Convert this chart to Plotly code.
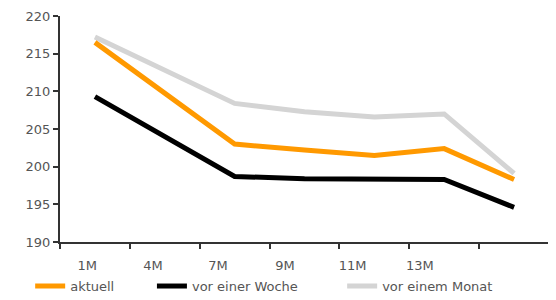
import plotly.graph_objects as go

categories = ["1M", "4M", "7M", "9M", "11M", "13M", ""]
tick_labels = ["1M", "4M", "7M", "9M", "11M", "13M"]
aktuell = [216.5, 209.8, 203.0, 202.2, 201.5, 202.4, 198.3]
vor_woche = [209.3, 204.0, 198.7, 198.4, 198.4, 198.3, 194.6]
vor_monat = [217.2, 212.8, 208.4, 207.3, 206.6, 207.0, 199.1]

xpos = [i + 0.5 for i in range(len(categories))]
label_pos = [0.39, 1.33, 2.26, 3.22, 4.19, 5.15]

fig = go.Figure()
fig.add_trace(go.Scatter(x=xpos, y=vor_monat, mode="lines", name="vor einem Monat",
                         line=dict(color="#d4d4d4", width=5), legend="legend3"))
fig.add_trace(go.Scatter(x=xpos, y=vor_woche, mode="lines", name="vor einer Woche",
                         line=dict(color="#000000", width=5), legend="legend2"))
fig.add_trace(go.Scatter(x=xpos, y=aktuell, mode="lines", name="aktuell",
                         line=dict(color="#ff9900", width=5), legend="legend"))
fig.add_trace(go.Scatter(x=[0, 7], y=[None, None], xaxis="x2", showlegend=False,
                         hoverinfo="skip"))

font = dict(family="DejaVu Sans, sans-serif", size=13, color="#555555")
legend_common = dict(orientation="h", yanchor="middle", y=-0.195, xanchor="left",
                     bgcolor="rgba(0,0,0,0)", font=font, itemwidth=30,
                     tracegroupgap=0)

# page body has an 8px default margin; compensate in figure size/margins
fig.update_layout(
    width=548, height=292,
    margin=dict(l=52, r=7, t=8, b=58, autoexpand=False),
    plot_bgcolor="white", paper_bgcolor="white",
    font=font,
    xaxis=dict(range=[0, 7], tickvals=list(range(8)), showticklabels=False,
               ticks="outside", ticklen=5, tickwidth=2, tickcolor="#333333",
               showline=True, linewidth=2, linecolor="#333333",
               showgrid=False, zeroline=False, fixedrange=True),
    xaxis2=dict(range=[0, 7], overlaying="x", side="bottom", tickvals=label_pos,
                ticktext=tick_labels, ticks="", showline=False, showgrid=False,
                zeroline=False, tickfont=font, ticklabelstandoff=14),
    yaxis=dict(range=[190, 220], tickvals=[190, 195, 200, 205, 210, 215, 220],
               ticks="outside", ticklen=5, tickwidth=2, tickcolor="#333333",
               showline=True, linewidth=2, linecolor="#333333",
               showgrid=False, zeroline=False, tickfont=font),
    legend=dict(**legend_common, x=-0.061),
    legend2=dict(**legend_common, x=0.188),
    legend3=dict(**legend_common, x=0.577),
)

fig.write_html("out.html")
